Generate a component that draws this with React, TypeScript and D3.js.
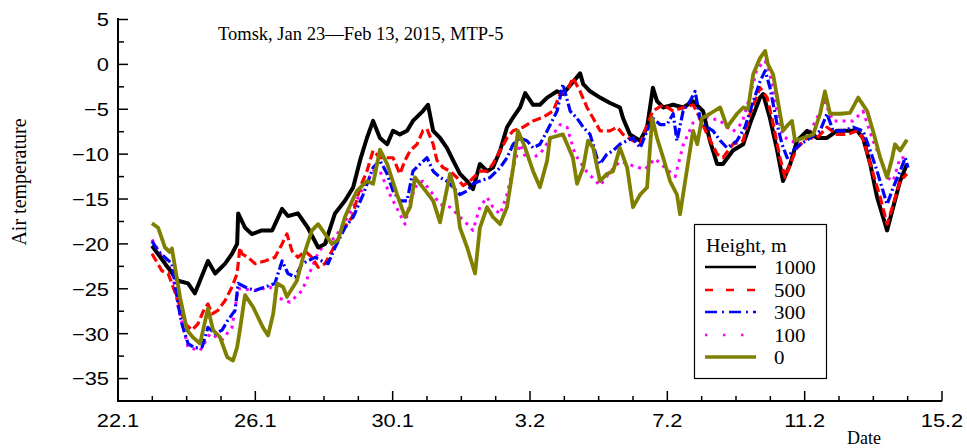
import React from "react";
import * as d3 from "d3";

// Days since 22 Jan 2015 00:00 and air temperature (°C) for each height
const days1000 = [0.99,1.37,1.75,2.04,2.24,2.62,2.83,3.12,3.32,3.47,3.50,3.70,3.90,4.19,4.49,4.78,4.95,5.24,5.53,5.83,6.03,6.32,6.61,6.85,7.05,7.25,7.43,7.63,7.84,8.01,8.21,8.42,8.59,8.88,9.03,9.18,9.38,9.58,9.76,9.96,10.17,10.34,10.54,10.75,10.92,11.13,11.33,11.51,11.71,11.86,12.09,12.29,12.50,12.79,12.96,13.46,13.55,13.75,14.04,14.33,14.62,14.71,14.91,15.21,15.41,15.58,15.70,15.88,16.17,16.46,16.75,17.04,17.24,17.45,17.62,17.91,18.21,18.41,18.70,18.79,18.99,19.20,19.37,19.58,19.78,20.07,20.36,20.65,20.94,21.24,21.53,21.70,21.91,22.11,22.40,22.58,22.78,22.98];
const temp1000 = [-20.2,-22.2,-24.1,-24.4,-25.5,-21.9,-23.3,-22.2,-21.1,-20,-16.6,-18.2,-18.9,-18.5,-18.5,-16.1,-16.9,-16.6,-18.2,-20.4,-20,-16.6,-15.2,-13.7,-10.7,-8.2,-6.3,-8.2,-8.9,-7.4,-7.8,-7.4,-6.3,-5.2,-4.5,-7.4,-8.2,-9.3,-10.7,-12.2,-13,-13.9,-11.1,-11.9,-11.5,-9.6,-7,-5.9,-4.8,-3.2,-4.5,-4.5,-3.7,-3,-3.3,-1,-2.2,-3,-3.7,-4.3,-4.8,-6,-7.8,-8.5,-7,-2.6,-4.1,-4.8,-4.5,-4.8,-4.1,-5.2,-8.5,-11.1,-11.1,-9.6,-8.9,-6.6,-3.7,-3.3,-6,-9.6,-13,-11.1,-8.5,-7.4,-8.2,-8.2,-7.4,-7.4,-7.4,-8.2,-11.1,-14.8,-18.5,-15.9,-13,-11.1];

const days500 = [0.99,1.28,1.46,1.75,1.95,2.16,2.33,2.53,2.62,2.74,2.91,3.12,3.32,3.47,3.55,3.61,3.79,3.99,4.28,4.57,4.78,4.92,5.07,5.24,5.45,5.65,5.83,6.03,6.23,6.53,6.82,7.05,7.25,7.43,7.63,7.84,8.01,8.21,8.36,8.51,8.71,8.88,9.00,9.18,9.29,9.47,9.67,9.87,10.05,10.25,10.54,10.75,10.92,11.13,11.33,11.51,11.80,12.09,12.38,12.67,12.88,13.08,13.25,13.46,13.66,13.84,14.04,14.33,14.54,14.71,15.0,15.21,15.41,15.58,15.88,16.17,16.46,16.75,16.95,17.16,17.45,17.62,17.91,18.21,18.41,18.70,18.91,19.08,19.28,19.43,19.58,19.78,20.07,20.36,20.65,20.94,21.24,21.53,21.70,21.91,22.20,22.40,22.58,22.78,22.98];
const temp500 = [-21.1,-23,-23.3,-26.3,-28.9,-29.6,-28.9,-27.1,-26.7,-27.8,-27.4,-26.3,-24.8,-23.3,-20.4,-21.1,-21.5,-22.2,-21.9,-21.5,-20,-18.9,-20.8,-21.5,-20.8,-21.5,-22.6,-22.2,-20.8,-18.5,-17,-13.7,-11.9,-9.6,-10.4,-10.4,-10.4,-12.2,-10.7,-9.6,-8.9,-7.4,-7.2,-8.9,-10.7,-11.5,-11.9,-12.6,-13.5,-13,-11.9,-11.9,-11.1,-9.6,-8.2,-7.4,-7,-6.3,-5.9,-5.2,-3.3,-3,-1.5,-3,-4.8,-6,-7.4,-7.4,-7,-7.8,-8.5,-8.9,-6.7,-5.2,-4.5,-5.2,-4.8,-4.5,-6,-7.8,-10,-10.4,-8.9,-8.5,-5.5,-2.6,-3.7,-6.6,-10.4,-12.6,-11.1,-9.3,-8.2,-8.2,-7,-7.8,-7.8,-7.4,-8.2,-11.1,-14.8,-17.8,-15.6,-13,-12.2];

const days300 = [0.99,1.17,1.37,1.57,1.75,1.86,2.04,2.24,2.45,2.62,2.83,3.03,3.2,3.41,3.5,3.70,3.99,4.28,4.57,4.78,4.95,5.16,5.36,5.53,5.74,5.94,6.12,6.32,6.61,6.85,7.14,7.43,7.63,7.84,8.01,8.21,8.42,8.59,8.80,9.00,9.18,9.38,9.58,9.76,9.96,10.17,10.34,10.54,10.84,11.13,11.33,11.51,11.71,11.91,12.09,12.29,12.50,12.79,12.96,13.17,13.37,13.55,13.75,13.95,14.04,14.24,14.42,14.62,14.83,15.0,15.21,15.41,15.58,15.79,15.99,16.17,16.28,16.46,16.66,16.81,16.95,17.16,17.33,17.54,17.74,18.03,18.26,18.41,18.70,18.85,18.99,19.20,19.34,19.49,19.66,19.87,20.16,20.45,20.65,20.83,21.12,21.41,21.70,21.91,22.11,22.40,22.58,22.78,22.93,23.01];
const temp300 = [-19.7,-20.8,-21.5,-22.2,-26.7,-28.9,-31.1,-31.6,-31.5,-29.3,-30,-29.6,-28.5,-27.4,-24.4,-24.8,-25.2,-24.8,-24.4,-21.9,-23.3,-23.7,-22.2,-21.9,-21.5,-21.9,-22.2,-20.4,-18.2,-17,-14.5,-11.5,-10.7,-12.2,-14.1,-15.2,-15.2,-11.9,-11.1,-10.4,-11.9,-12.6,-13,-13.7,-14.5,-14.1,-13.3,-13,-12.6,-11.5,-10.4,-8.9,-8.2,-8.5,-9.3,-8.9,-7.4,-5.2,-2.2,-5.2,-6,-7,-7.8,-10.4,-11.1,-10,-9.6,-8.9,-8.5,-8.2,-9.3,-7.4,-6,-6.7,-6.7,-5.5,-8.5,-5.2,-4.1,-3,-6,-7,-7.4,-8.5,-9.3,-8.5,-7,-5.2,-1.9,-0.7,-2.6,-6.7,-8.9,-10.4,-9.6,-8.9,-8.2,-7.4,-5.5,-7.4,-7.4,-7,-7.4,-9.6,-11.9,-15.6,-13.7,-11.9,-10.4,-11.5];

const days100 = [0.99,1.37,1.57,1.75,2.04,2.39,2.68,3.03,3.32,3.5,3.61,3.99,4.43,4.66,5.01,5.36,5.83,6.03,6.32,6.61,6.85,7.14,7.43,7.63,7.92,8.21,8.36,8.51,8.71,8.88,9.18,9.38,9.67,9.96,10.17,10.34,10.54,10.75,10.92,11.13,11.33,11.51,11.71,11.91,12.29,12.67,12.88,13.08,13.31,13.66,14.04,14.33,14.62,15.0,15.35,15.64,15.93,16.23,16.46,16.75,17.10,17.54,17.91,18.18,18.41,18.61,18.85,18.99,19.20,19.37,19.58,19.87,20.16,20.59,20.83,21.41,21.70,21.99,22.20,22.40,22.58,22.78,22.98];
const temp100 = [-19.5,-22,-23,-27,-31.5,-31.9,-30,-30.7,-29.3,-25,-25,-25.2,-24.8,-26,-26.5,-25.2,-21,-20,-19.3,-17.5,-15.9,-13.7,-11.9,-11.9,-14.5,-16.7,-17.8,-15.2,-13.3,-13,-14.5,-15.6,-15.9,-17,-17.8,-18.5,-15.9,-14.8,-15.9,-16.7,-14.5,-11.5,-8.9,-10.7,-10,-7.8,-6.7,-7,-10,-12,-13.5,-12,-10.8,-11.3,-11.7,-10.5,-11.5,-12.5,-9,-6.5,-5.8,-6.3,-7.5,-6.5,-3.5,-0.5,0.4,-1.1,-5.5,-8,-8.5,-8.9,-7.5,-4.2,-6.3,-6.3,-5.2,-8.5,-10.4,-12.6,-13,-10.4,-10.4];

const days0 = [0.99,1.17,1.37,1.51,1.57,1.81,2.01,2.18,2.39,2.62,2.77,2.97,3.18,3.35,3.47,3.55,3.70,3.93,4.22,4.37,4.52,4.63,4.81,4.92,5.21,5.39,5.65,5.83,6.03,6.23,6.41,6.61,6.82,6.96,7.25,7.43,7.63,7.84,8.13,8.36,8.51,8.65,8.88,9.18,9.38,9.67,9.82,9.96,10.17,10.40,10.54,10.75,10.92,11.13,11.33,11.51,11.65,11.86,12.09,12.29,12.50,12.58,12.96,13.25,13.37,13.55,13.69,13.84,14.04,14.24,14.42,14.62,14.83,15.0,15.21,15.41,15.56,15.70,15.88,16.08,16.28,16.37,16.52,16.66,16.75,16.87,17.01,17.24,17.54,17.74,18.03,18.21,18.35,18.50,18.70,18.85,18.93,19.08,19.20,19.37,19.52,19.63,19.72,19.95,20.25,20.45,20.59,20.74,21.03,21.32,21.56,21.82,21.99,22.20,22.40,22.55,22.63,22.78,22.98];
const temp0 = [-17.7,-18.2,-20.4,-20.9,-20.5,-26,-29.6,-30.4,-31.1,-27.2,-29.6,-30.4,-32.6,-33,-31.5,-29.6,-25.7,-27,-29.3,-30.2,-27.8,-24.4,-24.8,-25.9,-24.1,-21.5,-18.5,-17.8,-18.9,-20,-19.6,-17,-15.2,-14.1,-13,-13.3,-9.5,-11.1,-14.5,-17,-15.9,-12.6,-13.7,-15.2,-17.6,-12.2,-14.1,-18.2,-20.4,-23.3,-18.2,-15.9,-17,-17.8,-15.9,-11.5,-7.4,-9.3,-11.9,-13.7,-10.7,-8.2,-7.8,-10.4,-13.3,-11.5,-8.5,-9.3,-13,-12.2,-11.9,-9.3,-11.5,-15.9,-14.5,-13.7,-6,-8.2,-10.4,-13,-14.5,-16.7,-13,-9.6,-7.4,-8.9,-6,-5.5,-4.8,-7,-5.5,-4.8,-5,-1.1,0.7,1.5,0,-1.1,-3.7,-7.4,-6.7,-6.3,-8.5,-8.2,-7.8,-5.5,-3,-5.5,-5.5,-5.4,-3.7,-5.2,-7.4,-10.4,-12.6,-10.4,-8.9,-9.6,-8.4];

const heights = ["1000", "500", "300", "100", "0"];
const xTickLabels = ["22.1", "26.1", "30.1", "3.2", "7.2", "11.2", "15.2"];
const yTickValues = [5, 0, -5, -10, -15, -20, -25, -30, -35];

const W = 967;
const H = 448;

const seriesData: Record<string, { t: number[]; v: number[] }> = {
  "1000": { t: days1000, v: temp1000 },
  "500": { t: days500, v: temp500 },
  "300": { t: days300, v: temp300 },
  "100": { t: days100, v: temp100 },
  "0": { t: days0, v: temp0 },
};

const styles: Record<string, { color: string; width: number; dash?: string; legendDash?: string }> = {
  "1000": { color: "#000000", width: 4 },
  "500": { color: "#ff0000", width: 3.2, dash: "9,4", legendDash: "8,13" },
  "300": { color: "#0000ff", width: 3.2, dash: "10,3,2,3", legendDash: "12,5,2,5" },
  "100": { color: "#ff00ff", width: 3, dash: "3,5", legendDash: "2.5,15.5" },
  "0": { color: "#808000", width: 3.8 },
};

const drawOrder = ["100", "1000", "500", "300", "0"];

export default function App() {
  const x = d3.scaleLinear().domain([0, 24]).range([118, 942]);
  const y = d3.scaleLinear().domain([-37.5, 5]).range([401, 19.5]);

  const line = d3
    .line<[number, number]>()
    .x((d) => x(d[0]))
    .y((d) => y(d[1]));

  const majorX = d3.range(0, 25, 4);
  const minorX = d3.range(1, 24, 1).filter((d) => d % 4 !== 0);
  const minorY = d3.range(2.5, -37.5, -5);

  const sans = "'Liberation Sans', Arial, sans-serif";
  const serif = "'Liberation Serif', 'Times New Roman', serif";

  const legendRowY = [267, 290, 312, 335, 357];

  return (
    <svg
      width={W}
      height={H}
      style={{ position: "absolute", left: 0, top: 0, background: "#fff" }}
    >
      <rect x={0} y={0} width={W} height={H} fill="#fff" />

      {drawOrder.map((h) => {
        const d = seriesData[h];
        const pts = d.t.map((t, i) => [t, d.v[i]] as [number, number]);
        const s = styles[h];
        return (
          <path
            key={h}
            d={line(pts) || ""}
            fill="none"
            stroke={s.color}
            strokeWidth={s.width}
            strokeDasharray={s.dash}
            strokeLinejoin="round"
          />
        );
      })}

      <line x1={x(0)} x2={x(0)} y1={18} y2={402} stroke="#000" strokeWidth={2} />
      <line x1={117} x2={x(24)} y1={401} y2={401} stroke="#000" strokeWidth={2} />

      {yTickValues.map((v) => (
        <line key={"ym" + v} x1={118} x2={128} y1={y(v)} y2={y(v)} stroke="#000" strokeWidth={1.5} />
      ))}
      {minorY.map((v) => (
        <line key={"yn" + v} x1={118} x2={124} y1={y(v)} y2={y(v)} stroke="#000" strokeWidth={1.5} />
      ))}
      {yTickValues.map((v) => (
        <text
          key={"yl" + v}
          transform={`translate(109,${y(v)}) scale(1.15,1)`}
          textAnchor="end"
          dy="0.36em"
          fontFamily={sans}
          fontSize={19}
          fill="#000"
        >
          {d3.format("d")(v)}
        </text>
      ))}

      {majorX.map((d) => (
        <line key={"xm" + d} x1={x(d)} x2={x(d)} y1={401} y2={391} stroke="#000" strokeWidth={1.5} />
      ))}
      {minorX.map((d) => (
        <line key={"xn" + d} x1={x(d)} x2={x(d)} y1={401} y2={396} stroke="#000" strokeWidth={1.5} />
      ))}
      {majorX.map((d, i) => (
        <text
          key={"xl" + d}
          transform={`translate(${x(d)},427) scale(1.15,1)`}
          textAnchor="middle"
          fontFamily={sans}
          fontSize={19}
          fill="#000"
        >
          {xTickLabels[i]}
        </text>
      ))}

      <text
        transform="translate(26,182) rotate(-90)"
        textAnchor="middle"
        fontFamily={serif}
        fontSize={20}
        fill="#000"
      >
        Air temperature
      </text>
      <text x={847} y={444} fontFamily={serif} fontSize={18} fill="#000">
        Date
      </text>

      <text x={218} y={40} fontFamily={serif} fontSize={18.5} fill="#000">
        Tomsk, Jan 23—Feb 13, 2015, MTP-5
      </text>

      <rect x={694.5} y={224.5} width={132} height={154} fill="#fff" stroke="#000" strokeWidth={1.2} />
      <text transform="translate(706,252) scale(1.12,1)" fontFamily={serif} fontSize={18} fill="#000">
        Height, m
      </text>
      {heights.map((h, i) => {
        const s = styles[h];
        const ly = legendRowY[i];
        return (
          <g key={"lg" + h}>
            <line
              x1={705}
              x2={756}
              y1={ly}
              y2={ly}
              stroke={s.color}
              strokeWidth={h === "0" ? 3.5 : 2.5}
              strokeDasharray={s.legendDash}
            />
            <text
              transform={`translate(774,${ly + 6.5}) scale(1.1,1)`}
              fontFamily={serif}
              fontSize={19}
              fill="#000"
            >
              {h}
            </text>
          </g>
        );
      })}
    </svg>
  );
}
